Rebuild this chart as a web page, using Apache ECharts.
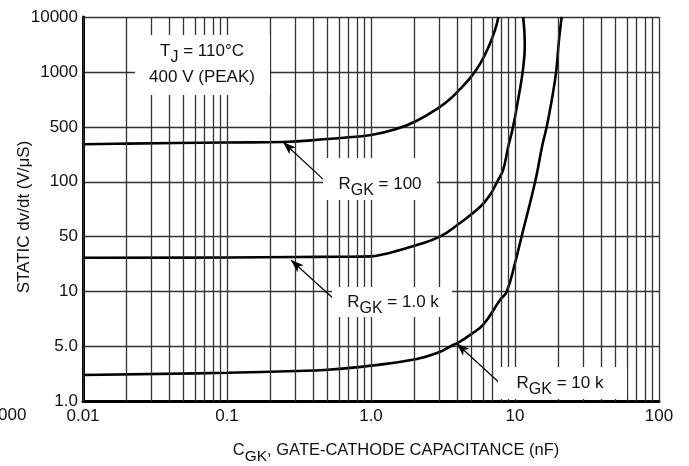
<!DOCTYPE html>
<html>
<head>
<meta charset="utf-8">
<script src="https://cdn.jsdelivr.net/npm/echarts@6/dist/echarts.min.js"></script>
<style>
html,body{margin:0;padding:0;background:#fff;}
#chart{width:689px;height:466px;}
</style>
</head>
<body>
<div id="chart"></div>
<script>
// ---- data ----
const xTickValues = [0.01, 0.1, 1, 10, 100];
const xTickLabels = ['0.01', '0.1', '1.0', '10', '100'];
const yTickValues = [1, 5, 10, 50, 100, 500, 1000, 10000];
const yTickLabels = ['1.0', '5.0', '10', '50', '100', '500', '1000', '10000'];

const rgk100X = [0.01, 0.02, 0.1, 0.245, 0.5, 0.7, 1.0, 1.5, 2.08, 3.0, 3.54, 4.15, 4.87, 5.71, 6.59, 7.26, 7.67];
const rgk100Y = [300, 306, 316, 321, 350, 368, 394, 469, 540, 642, 710, 805, 925, 1387, 2951, 5754, 10000];

const rgk1kX = [0.01, 0.1, 0.3, 0.6, 1.0, 1.2, 1.5, 2.08, 3.0, 4.15, 5.71, 6.7, 7.5, 8.26, 8.93, 9.69, 10.5, 11.3, 11.7, 11.4];
const rgk1kY = [27, 27.2, 27.6, 27.8, 28.1, 29.7, 33, 39.2, 50, 59.5, 72.7, 84.6, 99.7, 141, 269, 500, 702, 1000, 3090, 10000];

const rgk10kX = [0.01, 0.1, 0.3, 0.5, 1.0, 2.08, 3.0, 3.54, 4.15, 4.87, 6.0, 7.87, 8.75, 10.0, 11.1, 13.8, 15.5, 16.6, 18.0, 19.3, 20.2, 21.1];
const rgk10kY = [2.17, 2.32, 2.44, 2.54, 2.86, 3.47, 4.26, 5.0, 5.32, 5.79, 6.57, 9.0, 10.0, 23.1, 50, 100, 294, 500, 702, 1000, 3800, 10000];

const gridX = [];
[0.01, 0.1, 1, 10].forEach(d => { for (let k = 1; k <= 9; k++) gridX.push(+(d * k).toPrecision(3)); });
gridX.push(100);

// arrows: [fromX, fromY, tipX, tipY]
const arrow100 = [0.464, 108, 0.245, 321];
const arrow1k = [0.562, 9.0, 0.278, 25.3];
const arrow10k = [7.62, 1.8, 3.93, 5.2];

// y axis is piecewise-logarithmic between the labelled values (equal spacing)
function toPos(v) {
  for (let i = 0; i < yTickValues.length - 1; i++) {
    const a = yTickValues[i], b = yTickValues[i + 1];
    if (v <= b || i === yTickValues.length - 2) {
      return i + Math.log(v / a) / Math.log(b / a);
    }
  }
}
function pts(xs, ys) { return xs.map((x, i) => [x, toPos(ys[i])]); }
function arrowML(a) {
  return {
    silent: true,
    animation: false,
    symbol: ['none', 'arrow'],
    symbolSize: [7, 13],
    label: { show: false },
    lineStyle: { color: '#000', width: 1.2, type: 'solid' },
    data: [[{ coord: [a[0], toPos(a[1])] }, { coord: [a[2], toPos(a[3])] }]]
  };
}

const FONT = '"Liberation Sans", Arial, sans-serif';
const chart = echarts.init(document.getElementById('chart'));

const curveStyle = { color: '#000', width: 2.6 };

function subText(parts, x, y, size) {
  const s = size || 17;
  return {
    type: 'text', x: x, y: y, z: 20,
    style: {
      text: parts.map(p => (p[1] ? '{b|' : '{a|') + p[0] + '}').join(''),
      align: 'center', verticalAlign: 'middle',
      rich: {
        a: { font: s + 'px ' + FONT, fill: '#111', lineHeight: 20, verticalAlign: 'top' },
        b: { font: (s - 1) + 'px ' + FONT, fill: '#111', lineHeight: 23, verticalAlign: 'bottom' }
      }
    }
  };
}
function box(x1, y1, x2, y2) {
  return { type: 'rect', z: 15, shape: { x: x1, y: y1, width: x2 - x1, height: y2 - y1 }, style: { fill: '#fff' } };
}

chart.setOption({
  animation: false,
  backgroundColor: '#fff',
  grid: { left: 83, right: 30, top: 17, bottom: 64.5 },
  xAxis: {
    type: 'log', logBase: 10, min: 0.01, max: 100,
    axisLine: { show: true, onZero: false, lineStyle: { color: '#000', width: 3 } },
    axisTick: { show: false },
    splitLine: { show: false },
    axisLabel: {
      margin: 6, color: '#111', fontSize: 17, fontFamily: FONT,
      showMinLabel: true, showMaxLabel: true,
      formatter: v => xTickLabels[Math.round(Math.log10(v)) + 2]
    }
  },
  yAxis: {
    type: 'value', min: 0, max: 7, interval: 1,
    axisLine: { show: true, lineStyle: { color: '#000', width: 3 } },
    axisTick: { show: false },
    splitLine: { show: true, lineStyle: { color: '#333', width: 1.3 } },
    axisLabel: {
      margin: 5, color: '#111', fontSize: 17, fontFamily: FONT,
      formatter: v => yTickLabels[Math.round(v)]
    }
  },
  series: [
    {
      type: 'line', data: [[0.01, 0]], symbol: 'none', silent: true,
      lineStyle: { opacity: 0 },
      markLine: {
        silent: true, animation: false, symbol: ['none', 'none'], label: { show: false },
        lineStyle: { color: '#333', width: 1.3, type: 'solid' },
        data: gridX.map(v => ({ xAxis: v }))
      }
    },
    { type: 'line', data: pts(rgk100X, rgk100Y), symbol: 'none', smooth: 0.45, lineStyle: curveStyle, markLine: arrowML(arrow100) },
    { type: 'line', data: pts(rgk1kX, rgk1kY), symbol: 'none', smooth: 0.45, lineStyle: curveStyle, markLine: arrowML(arrow1k) },
    { type: 'line', data: pts(rgk10kX, rgk10kY), symbol: 'none', smooth: 0.45, lineStyle: curveStyle, markLine: arrowML(arrow10k) }
  ],
  graphic: [
    box(135, 35, 270, 95),
    box(323, 158, 437, 200),
    box(332, 287, 452, 317),
    box(498, 367, 627, 399),
    subText([['T', false], ['J', true], [' = 110°C', false]], 202, 54.5),
    { type: 'text', x: 202, y: 77, z: 20, style: { text: '400 V (PEAK)', font: '17px ' + FONT, fill: '#111', align: 'center', verticalAlign: 'middle' } },
    subText([['R', false], ['GK', true], [' = 100', false]], 380, 187),
    subText([['R', false], ['GK', true], [' = 1.0 k', false]], 393, 305),
    subText([['R', false], ['GK', true], [' = 10 k', false]], 560, 386.5),
    subText([['C', false], ['GK', true], [', GATE-CATHODE CAPACITANCE (nF)', false]], 396, 453, 16.5),
    { type: 'text', x: 24, y: 217, rotation: Math.PI / 2, z: 20, style: { text: 'STATIC dv/dt (V/μS)', font: '17px ' + FONT, fill: '#111', align: 'center', verticalAlign: 'middle' } },
    { type: 'text', x: -2, y: 415, z: 20, style: { text: '000', font: '17px ' + FONT, fill: '#111', align: 'left', verticalAlign: 'middle' } }
  ]
});
</script>
</body>
</html>
